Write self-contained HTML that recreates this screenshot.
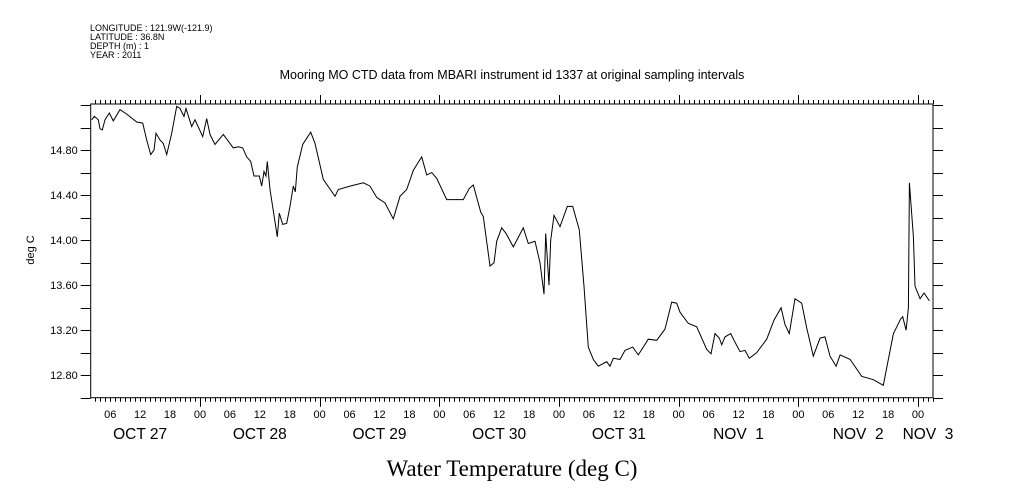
<!DOCTYPE html>
<html><head><meta charset="utf-8"><style>
body{margin:0;background:#fff}
svg{display:block}
text{font-family:"Liberation Sans",sans-serif;fill:#000}
</style></head><body>
<svg id="chart" width="1009" height="504" viewBox="0 0 1009 504" xmlns="http://www.w3.org/2000/svg">
<rect width="1009" height="504" fill="#fff"/>
<g font-size="9">
<text x="90" y="31">LONGITUDE : 121.9W(-121.9)</text>
<text x="90" y="40">LATITUDE : 36.8N</text>
<text x="90" y="49">DEPTH (m) : 1</text>
<text x="90" y="58">YEAR : 2011</text>
</g>
<text x="512" y="79" text-anchor="middle" font-size="12.5">Mooring MO CTD data from MBARI instrument id 1337 at original sampling intervals</text>
<text transform="translate(34,250) rotate(-90)" text-anchor="middle" font-size="11">deg C</text>
<text x="512" y="476" text-anchor="middle" font-size="23" style="font-family:'Liberation Serif',serif">Water Temperature (deg C)</text>
<g id="axes"></g>
<g id="series"></g>
</svg>
<script>
const hours = [2.29,2.81,3.61,3.95,4.41,4.95,5.82,6.62,7.96,9.31,11.31,12.51,13.32,14.12,14.78,15.18,15.98,16.65,17.33,18.33,19.33,19.99,20.80,21.20,22.34,23.00,24.55,25.35,26.01,27.01,28.68,30.68,31.69,32.57,33.37,34.17,34.84,35.90,36.38,36.84,37.24,37.50,38.04,39.51,39.91,40.59,41.39,42.06,42.72,43.12,43.52,44.60,46.21,47.07,48.73,51.08,51.74,54.09,56.75,58.10,59.44,61.11,62.77,64.12,65.46,66.78,68.47,69.47,70.47,71.48,73.48,76.81,78.01,78.82,80.30,80.82,82.17,82.97,83.51,84.51,85.37,86.84,88.84,89.85,91.19,92.19,92.99,93.34,94.00,94.34,95.00,96.20,97.67,98.75,100.07,101.02,101.88,102.88,103.88,105.57,106.23,106.89,108.24,109.24,110.78,111.91,113.91,115.60,117.26,118.60,119.61,120.27,121.93,123.62,125.62,126.49,127.29,128.15,128.63,129.29,130.44,131.10,132.30,133.31,134.17,135.65,137.66,139.12,140.53,141.33,142.19,143.33,144.67,145.68,147.00,148.35,149.35,150.35,151.56,152.36,154.37,156.71,159.04,161.04,163.05,164.53,164.93,165.60,166.06,166.26,167.06,167.40,168.41,169.21,170.27];
const temps = [15.07,15.10,15.07,14.99,14.98,15.07,15.13,15.06,15.16,15.12,15.05,15.04,14.89,14.76,14.80,14.95,14.89,14.86,14.76,14.95,15.19,15.17,15.10,15.17,15.01,15.07,14.92,15.08,14.94,14.85,14.94,14.82,14.83,14.82,14.74,14.70,14.57,14.57,14.48,14.61,14.57,14.70,14.45,14.03,14.24,14.14,14.15,14.30,14.48,14.43,14.65,14.85,14.96,14.86,14.54,14.39,14.45,14.48,14.51,14.48,14.38,14.33,14.19,14.39,14.45,14.62,14.74,14.58,14.60,14.55,14.36,14.36,14.46,14.49,14.25,14.21,13.77,13.80,13.99,14.11,14.06,13.94,14.11,13.97,13.99,13.80,13.52,14.06,13.60,14.00,14.22,14.12,14.30,14.30,14.09,13.59,13.05,12.94,12.88,12.92,12.88,12.95,12.94,13.02,13.05,12.98,13.12,13.11,13.21,13.45,13.44,13.36,13.26,13.23,13.03,12.99,13.17,13.13,13.07,13.14,13.17,13.11,13.01,13.02,12.95,13.00,13.12,13.29,13.40,13.25,13.17,13.48,13.44,13.22,12.97,13.13,13.14,12.97,12.88,12.98,12.94,12.79,12.76,12.71,13.17,13.30,13.32,13.20,13.40,14.51,14.03,13.59,13.48,13.53,13.46];
const yTickValues = [12.80,13.20,13.60,14.00,14.40,14.80];
const yTickLabels = ["12.80","13.20","13.60","14.00","14.40","14.80"];
const hourLabels = ["06","12","18","00"];
const dayLabels = ["OCT 27","OCT 28","OCT 29","OCT 30","OCT 31","NOV  1","NOV  2","NOV  3"];

const L=90.7,R=933,T=104,B=397.7;
const H0=2.086,H1=171.0,Y0=12.60,Y1=15.21;
const xs=h=>L+(h-H0)*(R-L)/(H1-H0);
const ys=v=>B-(v-Y0)*(B-T)/(Y1-Y0);
const NS="http://www.w3.org/2000/svg";
const axes=document.getElementById('axes');
function mk(tag,attrs,parent){const e=document.createElementNS(NS,tag);for(const k in attrs)e.setAttribute(k,attrs[k]);parent.appendChild(e);return e;}

const frame=mk('rect',{x:L,y:T,width:R-L,height:B-T,fill:'none',stroke:'#000','stroke-width':1},axes);



for(let h=Math.ceil(H0);h<=H1;h++){
  const x=Math.round(xs(h))+0.5;
  const big=h%24===0;
  const tb=mk('line',{x1:x,x2:x,y1:B,y2:B+(big?9:4),stroke:'#000'},axes);
  
  
  const tt=mk('line',{x1:x,x2:x,y1:T,y2:T-(big?9:4),stroke:'#000'},axes);
  
  
  if(h%6===0){
    const lab=mk('text',{x:xs(h),y:418,'text-anchor':'middle','font-size':11},axes);
    lab.textContent=hourLabels[(h/6-1)%4];
    
    
  }
}
dayLabels.forEach((d,i)=>{
  const cx=i<7?xs(i*24+12):xs(i*24+2);
  const t=mk('text',{x:cx,y:439,'text-anchor':'middle','font-size':15.5},axes);
  t.style.whiteSpace='pre';
  t.textContent=d;
  
  
});
for(let v=12.6;v<=15.21;v+=0.2){
  const y=Math.round(ys(v))+0.5;
  const a=mk('line',{x1:L-10,x2:L,y1:y,y2:y,stroke:'#000'},axes);
  
  
  const b=mk('line',{x1:R,x2:R+10,y1:y,y2:y,stroke:'#000'},axes);
  
  
}
yTickValues.forEach((v,i)=>{
  const t=mk('text',{x:L-13,y:ys(v)+4,'text-anchor':'end','font-size':11},axes);
  t.textContent=yTickLabels[i];
  
  
});
const pts=hours.map((h,i)=>xs(h).toFixed(1)+','+ys(temps[i]).toFixed(1)).join(' ');
const line=mk('polyline',{points:pts,fill:'none',stroke:'#000','stroke-width':1,'stroke-linejoin':'miter'},document.getElementById('series'));


</script>
</body></html>
